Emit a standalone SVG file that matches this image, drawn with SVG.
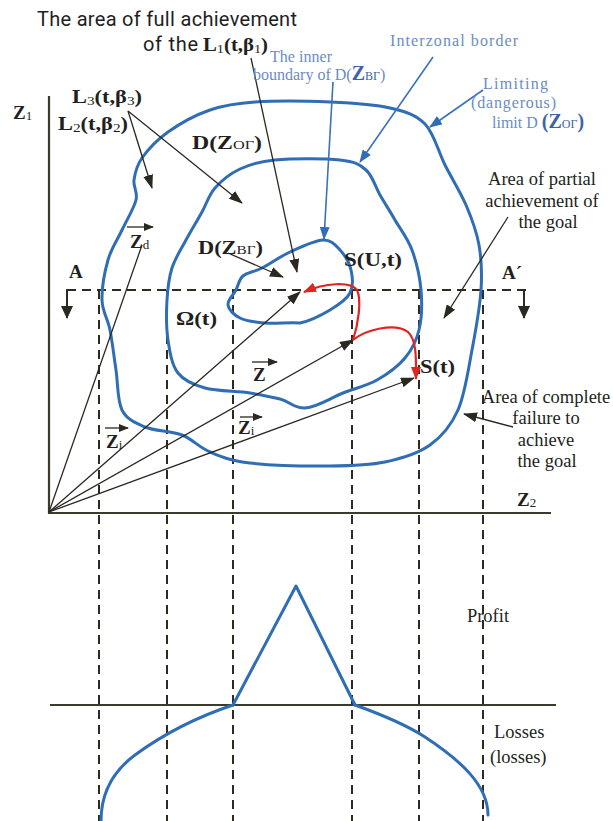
<svg xmlns="http://www.w3.org/2000/svg" width="613" height="821" viewBox="0 0 613 821">
<defs>
<style>
.blue{fill:none;stroke:#2f6db4;stroke-width:3;stroke-linejoin:round;stroke-linecap:round}
.dash{fill:none;stroke:#2e2a20;stroke-width:2;stroke-dasharray:9 6}
.ax{fill:none;stroke:#3c3a2c;stroke-width:2.2}
.thin{fill:none;stroke:#2a2820;stroke-width:1.3}
.bthin{fill:none;stroke:#3a72bb;stroke-width:1.6}
.red{fill:none;stroke:#e02424;stroke-width:2.2}
.sans{font-family:Roboto,"Liberation Sans",sans-serif;font-size:20px;fill:#1e1e1e}
.bs{font-family:"Liberation Serif",serif;font-weight:bold;font-size:19px;fill:#231f20}
.rs{font-family:"Liberation Serif",serif;font-size:18.5px;fill:#231f20}
.bl{font-family:"Liberation Serif",serif;font-size:16px;fill:#6a8cc4}
.bld{font-family:"Liberation Serif",serif;font-size:20px;font-weight:bold;fill:#3c64a8}
.sub{font-size:13px;font-weight:normal}
.mid{text-anchor:middle}
</style>
<marker id="ah" markerUnits="userSpaceOnUse" markerWidth="14" markerHeight="10" refX="13" refY="5" orient="auto"><path d="M0,0 L14,5 L0,10 z" fill="#2a2820"/></marker>
<marker id="ahs" markerUnits="userSpaceOnUse" markerWidth="10" markerHeight="8" refX="9" refY="4" orient="auto"><path d="M0,0 L10,4 L0,8 z" fill="#2a2820"/></marker>
<marker id="ahb" markerUnits="userSpaceOnUse" markerWidth="13" markerHeight="10" refX="12" refY="5" orient="auto"><path d="M0,0 L13,5 L0,10 z" fill="#2f6db4"/></marker>
<marker id="ahr" markerUnits="userSpaceOnUse" markerWidth="13" markerHeight="10" refX="12" refY="5" orient="auto"><path d="M0,0 L13,5 L0,10 z" fill="#e02424"/></marker>
<marker id="aht" markerUnits="userSpaceOnUse" markerWidth="13" markerHeight="12" refX="12" refY="6" orient="auto"><path d="M0,0 L13,6 L0,12 z" fill="#2a2820"/></marker>
</defs>
<rect width="613" height="821" fill="#ffffff"/>

<!-- dashed projection lines -->
<g id="projections">
<path class="dash" d="M67,290 H526"/>
<path class="dash" d="M99,290 V821 M167,290 V821 M233,290 V821 M352,290 V821 M419,290 V821 M483,290 V821"/>
<path d="M67,289 V318" stroke="#2e2a20" stroke-width="2" marker-end="url(#aht)"/>
<path d="M524,289 V318" stroke="#2e2a20" stroke-width="2" marker-end="url(#aht)"/>
</g>

<!-- axes -->
<g id="axes">
<path class="ax" d="M49,96 V513 H551"/>
<path class="ax" d="M50,705 H556"/>
</g>

<!-- regions -->
<g id="outer-limit">
<path class="blue" d="M102,300 C101.7,288.3 104.7,271.7 108,260 C111.3,248.3 117.3,240 122,230 C126.7,220 134,208.3 136,200 C138,191.7 133,187 134,180 C135,173 136.3,166 142,158 C147.7,150 156.7,140 168,132 C179.3,124 195.5,115 210,110 C224.5,105 235,103.3 255,102 C275,100.7 307.5,101 330,102 C352.5,103 374.2,104.3 390,108 C405.8,111.7 415.8,114.5 425,124 C434.2,133.5 438.2,151.5 445,165 C451.8,178.5 460.3,191.7 466,205 C471.7,218.3 476.5,230.8 479,245 C481.5,259.2 482.2,272.5 481,290 C479.8,307.5 475.8,330 472,350 C468.2,370 465,394.2 458,410 C451,425.8 442.2,436.3 430,445 C417.8,453.7 401.7,458.5 385,462 C368.3,465.5 352.5,465.8 330,466 C307.5,466.2 270,465.3 250,463 C230,460.7 221.3,456.7 210,452 C198.7,447.3 192.8,439.2 182,435 C171.2,430.8 155,431.2 145,427 C135,422.8 126.8,419.5 122,410 C117.2,400.5 118,383.3 116,370 C114,356.7 112.3,341.7 110,330 C107.7,318.3 102.3,311.7 102,300 Z"/>
</g>
<g id="interzonal">
<path class="blue" d="M167,300 C167.7,288 168.8,278 172,268 C175.2,258 181,249.3 186,240 C191,230.7 197.2,220.7 202,212 C206.8,203.3 208.7,195.2 215,188 C221.3,180.8 230,173.7 240,169 C250,164.3 258.3,161.5 275,160 C291.7,158.5 324.8,158.3 340,160 C355.2,161.7 359.3,164.2 366,170 C372.7,175.8 375.2,186.7 380,195 C384.8,203.3 389.7,210.8 395,220 C400.3,229.2 407.7,238.3 412,250 C416.3,261.7 419.8,276.7 421,290 C422.2,303.3 421.7,318.7 419,330 C416.3,341.3 412,349.7 405,358 C398,366.3 387.3,374.2 377,380 C366.7,385.8 355.3,388.2 343,393 C330.7,397.8 318,407 305,408 C294,408.5 290,401.5 280,399 C270,396.5 262,395 250,393 C237,391 217,391.3 205,388 C193,384.7 184.2,381 178,373 C171.8,365 169.8,352.2 168,340 C166.2,327.8 166.3,312 167,300 Z"/>
</g>
<g id="omega">
<path class="blue" d="M323,240 C331.3,239.7 335.3,245 340,250 C344.7,255 349.3,262.8 351,270 C352.7,277.2 353.5,286.3 350,293 C346.5,299.7 338.3,305 330,310 C321.7,315 310.8,320.8 300,323 C290,322.2 275,323.8 265,323 C255,322.2 246.2,321 240,318 C233.8,315 228.7,309.7 228,305 C227.3,300.3 233.5,294.8 236,290 C238.5,285.2 238.7,279.7 243,276 C247.3,272.3 254.2,272 262,268 C269.8,264 279.8,256.7 290,252 C300.2,247.3 314.7,240.3 323,240 Z"/>
</g>

<!-- bottom chart -->
<g id="profit-chart">
<path class="blue" d="M233,705 L296,586 L355,705"/>
<path class="blue" d="M233,705 C200,716 165,733 135,755 C112,772 101,795 101,821"/>
<path class="blue" d="M355,705 C380,714 405,724 425,737 C460,760 488,785 488,815"/>
</g>

<!-- connectors -->
<g id="connectors">
<path class="thin" d="M49,512 L142,245"/>
<path class="thin" d="M49,512 L300,292" marker-end="url(#ah)"/>
<path class="thin" d="M49,512 L353,340" marker-end="url(#ah)"/>
<path class="thin" d="M49,512 L414,378" marker-end="url(#ah)"/>
<path class="thin" d="M251,58 L297,272" marker-end="url(#ah)"/>
<path class="thin" d="M128,111 L152,188" marker-end="url(#ah)"/>
<path class="thin" d="M128,111 L242,203" marker-end="url(#ah)"/>
<path class="thin" d="M228,253 L283,277" marker-end="url(#ah)"/>
<path class="thin" d="M508,217 L444,318" marker-end="url(#ah)"/>
<path class="thin" d="M513,427 L464,414" marker-end="url(#ah)"/>
<path class="bthin" d="M333,82 L324,239" marker-end="url(#ahb)"/>
<path class="bthin" d="M433,57 L360,162" marker-end="url(#ahb)"/>
<path class="bthin" d="M483,90 L430,127" marker-end="url(#ahb)"/>
<path class="red" d="M353,340 C358,325 362,300 357,290 C350,281 325,283 304,292" marker-end="url(#ahr)"/>
<path class="red" d="M353,340 C365,330 395,322 408,332 C417,340 416,360 416,379" marker-end="url(#ahr)"/>
<path class="thin" d="M127,227 H153" marker-end="url(#ahs)"/>
<path class="thin" d="M252,362 H277" marker-end="url(#ahs)"/>
<path class="thin" d="M105,428 H128" marker-end="url(#ahs)"/>
<path class="thin" d="M240,417 H262" marker-end="url(#ahs)"/>
</g>

<!-- labels -->
<g id="title">
<text class="sans" x="37" y="26" textLength="260">The area of full achievement</text>
<text class="sans" x="143" y="51" textLength="55">of the</text>
<text class="bs" x="203" y="51" textLength="65" lengthAdjust="spacingAndGlyphs">L<tspan class="sub" dy="2">1</tspan><tspan dy="-2">(t,β</tspan><tspan class="sub" dy="2">1</tspan><tspan dy="-2">)</tspan></text>
</g>
<g id="blue-labels">
<text class="bl" x="270" y="62" textLength="62">The inner</text>
<text class="bl" x="253" y="80">boundary of D(<tspan class="bld">Z</tspan><tspan font-size="12" fill="#3c64a8">ВГ</tspan>)</text>
<text class="bl" x="390" y="46" font-size="18" textLength="128">Interzonal border</text>
<text class="bl" x="483" y="89" font-size="18" textLength="65">Limiting</text>
<text class="bl" x="471" y="108" font-size="18" textLength="85">(dangerous)</text>
<text class="bl" x="492" y="128" font-size="18">limit D <tspan class="bld">(Z</tspan><tspan font-size="12" fill="#3c64a8">ОГ</tspan><tspan class="bld" font-weight="normal">)</tspan></text>
</g>
<g id="math-labels">
<text class="bs" x="72" y="103" textLength="70" lengthAdjust="spacingAndGlyphs">L<tspan class="sub" dy="2">3</tspan><tspan dy="-2">(t,β</tspan><tspan class="sub" dy="2">3</tspan><tspan dy="-2">)</tspan></text>
<text class="bs" x="58" y="130" textLength="70" lengthAdjust="spacingAndGlyphs">L<tspan class="sub" dy="2">2</tspan><tspan dy="-2">(t,β</tspan><tspan class="sub" dy="2">2</tspan><tspan dy="-2">)</tspan></text>
<text class="bs" x="13" y="119" font-size="22">Z<tspan class="sub" dy="1">1</tspan></text>
<text class="bs" x="517" y="506" font-size="22">Z<tspan class="sub" dy="1">2</tspan></text>
<text class="bs" x="192" y="149" textLength="70" lengthAdjust="spacingAndGlyphs">D(Z<tspan class="sub">ОГ</tspan>)</text>
<text class="bs" x="198" y="254" textLength="65" lengthAdjust="spacingAndGlyphs">D(Z<tspan class="sub">ВГ</tspan>)</text>
<text class="bs" x="69" y="278" font-size="20">A</text>
<text class="bs" x="502" y="279" font-size="20">A´</text>
<text class="bs" x="176" y="325" textLength="41" lengthAdjust="spacingAndGlyphs">Ω(t)</text>
<text class="bs" x="344" y="266" textLength="58" lengthAdjust="spacingAndGlyphs">S(U,t)</text>
<text class="bs" x="420" y="373" textLength="35" lengthAdjust="spacingAndGlyphs">S(t)</text>
<text class="bs" x="130" y="248" font-size="21">Z<tspan class="sub" dy="1">d</tspan></text>
<text class="bs" x="253" y="381" font-size="21">Z</text>
<text class="bs" x="106" y="448" font-size="21">Z<tspan class="sub" dy="1">i</tspan></text>
<text class="bs" x="238" y="434" font-size="21">Z<tspan class="sub" dy="1">i</tspan></text>
</g>
<g id="area-labels">
<text class="rs mid" x="542" y="185">Area of partial</text>
<text class="rs mid" x="542" y="207">achievement of</text>
<text class="rs mid" x="548" y="228">the goal</text>
<text class="rs mid" x="546" y="403">Area of complete</text>
<text class="rs mid" x="546" y="424">failure to</text>
<text class="rs mid" x="546" y="446">achieve</text>
<text class="rs mid" x="547" y="467">the goal</text>
<text class="rs mid" x="488" y="622">Profit</text>
<text class="rs" x="494" y="738">Losses</text>
<text class="rs" x="490" y="763">(losses)</text>
</g>
</svg>
